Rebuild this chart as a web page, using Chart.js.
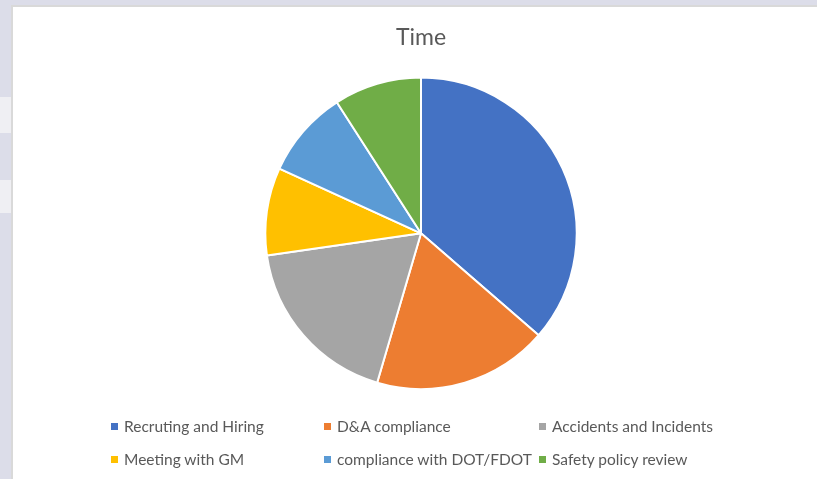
<!DOCTYPE html>
<html>
<head>
<meta charset="utf-8">
<script src="https://cdn.jsdelivr.net/npm/chart.js@4"></script>
<style>
  html, body { margin: 0; padding: 0; }
  body {
    width: 817px; height: 479px; overflow: hidden; position: relative;
    background: #dcdde9;
    font-family: Lato, "Open Sans", sans-serif;
  }
  .band { position: absolute; left: 0; width: 12px; background: #efeff3; }
  #box {
    position: absolute; left: 11px; top: 5px; width: 820px; height: 480px;
    background: #fff; border-top: 2px solid #d9d9d9; border-left: 2px solid #d9d9d9;
  }
  #chart { position: absolute; left: 25px; top: 7px; }
  #legend {
    position: absolute; left: 111px; top: 417px;
    display: grid; grid-template-columns: 213px 215px 220px; row-gap: 14px;
    color: #595959; font-size: 15.5px; line-height: 19px; white-space: nowrap;
  }
  #legend span.sw { display: inline-block; width: 7px; height: 7px; margin-right: 6px; vertical-align: 2px; }
</style>
</head>
<body>
<div class="band" style="top:97px;height:36px"></div>
<div class="band" style="top:180px;height:33px"></div>
<div id="box"></div>
<canvas id="chart" width="792" height="472"></canvas>
<div id="legend"></div>
<script>
'use strict';

const categories = ['Recruting and Hiring', 'D&A compliance', 'Accidents and Incidents',
  'Meeting with GM', 'compliance with DOT/FDOT', 'Safety policy review'];
const hours = [4, 2, 2, 1, 1, 1];
const sliceColors = ['#4472C4', '#ED7D31', '#A5A5A5', '#FFC000', '#5B9BD5', '#70AD47'];

function renderLegend() {
  const legendElem = document.getElementById('legend');
  categories.forEach((name, i) => {
    const item = document.createElement('div');
    const sw = document.createElement('span');
    sw.className = 'sw';
    sw.style.background = sliceColors[i];
    item.appendChild(sw);
    item.appendChild(document.createTextNode(name));
    legendElem.appendChild(item);
  });
}

function renderChart() {
  const canvasElem = document.getElementById('chart');
  const chartData = {
    labels: categories,
    datasets: [{
      label: 'Time',
      data: hours,
      backgroundColor: sliceColors,
      borderColor: '#ffffff',
      borderWidth: 2,
      hoverOffset: 0,
    }],
  };

  const chartConfig = {
    type: 'pie',
    data: chartData,
    options: {
      responsive: false,
      animation: false,
      layout: { padding: { top: 0, bottom: 89, left: 0, right: 0 } },
      plugins: {
        legend: { display: false },
        tooltip: { enabled: false },
        title: {
          display: true,
          text: 'Time',
          color: '#595959',
          font: { family: 'Lato', size: 23, weight: 'normal' },
          padding: { top: 17, bottom: 25 },
        },
      },
    },
  };

  new Chart(canvasElem.getContext('2d'), chartConfig);
}

renderLegend();
renderChart();
</script>
</body>
</html>
